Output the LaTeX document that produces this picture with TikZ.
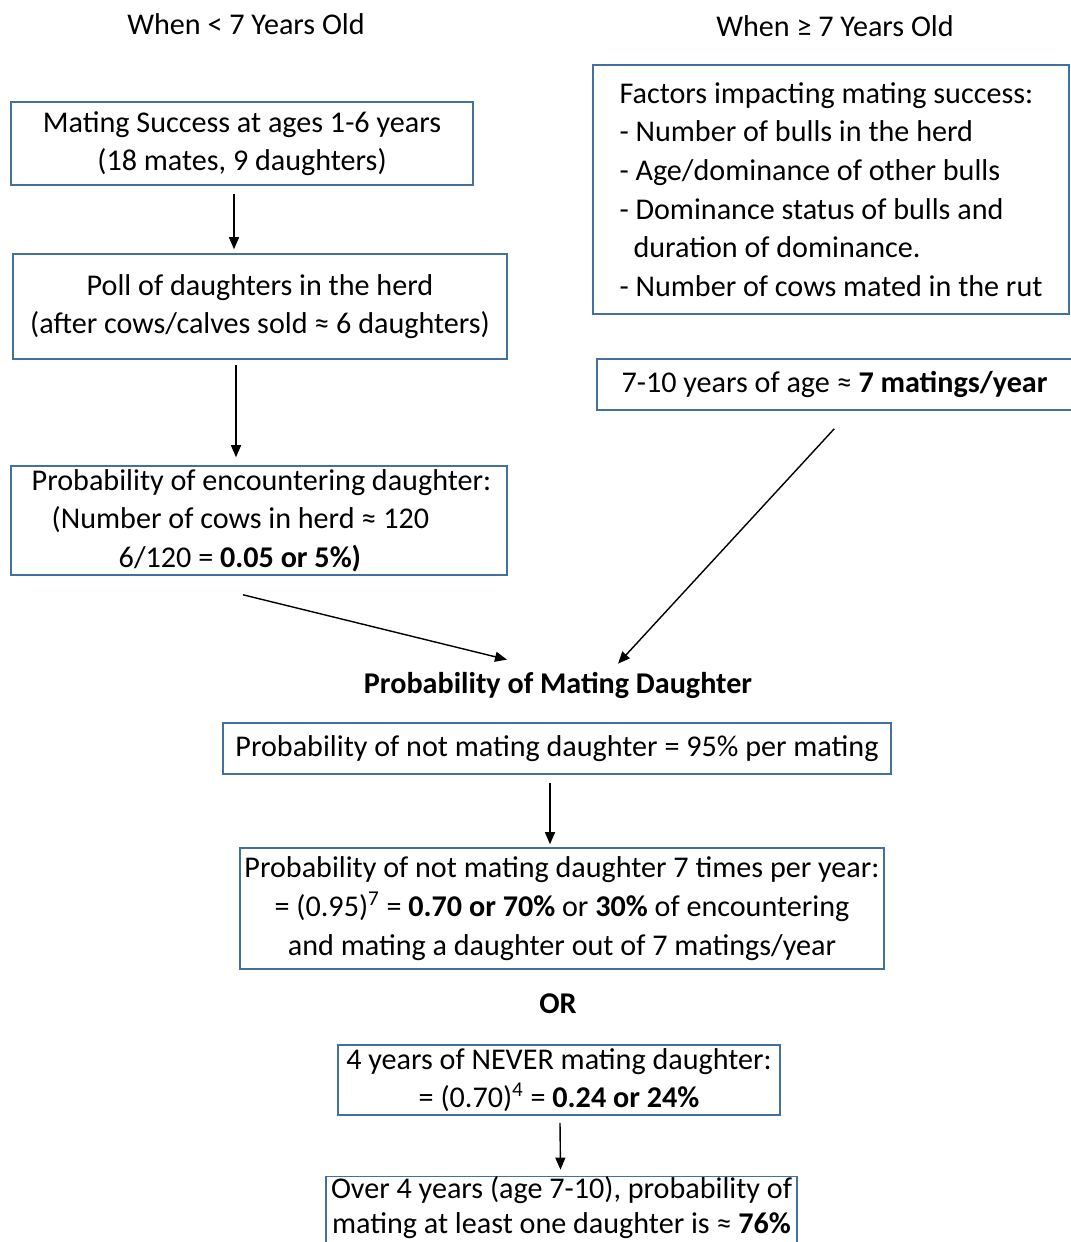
\documentclass[tikz,border=0pt]{standalone}
\usepackage{fontspec}
\setmainfont{Carlito}
\usetikzlibrary{arrows.meta}
\usetikzlibrary{calc}
\definecolor{boxblue}{RGB}{65,113,156}
\newcommand{\bodyfont}{\fontsize{17.15pt}{22pt}\selectfont}
\tikzset{
  box/.style={draw=boxblue,line width=0.9pt,inner sep=0pt,align=center,font=\bodyfont},
  arr/.style={-{Triangle[length=0.24cm,width=0.2cm]},line width=0.8pt},
}

\begin{document}
\begin{tikzpicture}[x=0.02cm,y=-0.02cm]
\useasboundingbox (0,0) rectangle (1071,1242);
\clip (0,0) rectangle (1071,1242);
% headings
\node[font=\bodyfont] (young) at (246,24) {When < 7 Years Old};
\node[font=\bodyfont] (old) at (835,26) {When ≥ 7 Years Old};

% left column
\node[box,minimum width=9.24cm,minimum height=1.66cm] (mate) at (242,143.5)
  {Mating Success at ages 1-6 years\\(18 mates, 9 daughters)};
\node[box,minimum width=9.88cm,minimum height=2.1cm] (poll) at (260,306.5)
  {Poll of daughters in the herd\\(after cows/calves sold ≈ 6 daughters)};
\node[box,align=left,minimum width=9.92cm,minimum height=2.18cm] (enc) at (259,520.5)
  {\hspace*{0.1cm}Probability of encountering daughter:\\
   \hspace*{0.5cm}(Number of cows in herd ≈ 120\\
   \hspace*{1.84cm}6/120 = \textbf{0.05 or 5\%)}};

% right column
\node[box,align=left,minimum width=9.52cm,minimum height=4.98cm] (factors) at (831,189.5)
  {Factors impacting mating success:\\
   - Number of bulls in the herd\\
   - Age/dominance of other bulls\\
   - Dominance status of bulls and\\
   \hspace*{0.28cm}duration of dominance.\\
   - Number of cows mated in the rut};
\node[box,minimum width=9.9cm,minimum height=1.02cm] (rate) at (844.5,384.5)
  {7-10 years of age ≈ \textbf{7 matings/year}\hspace*{0.4cm}};

% lower part
\node[font=\bodyfont\bfseries] (title) at (558,685) {Probability of Mating Daughter};
\node[box,minimum width=13.36cm,minimum height=1.02cm] (notm) at (557,748.5)
  {Probability of not mating daughter = 95\% per mating};
\node[box,minimum width=12.88cm,minimum height=2.42cm] (seven) at (562,908.5)
  {Probability of not mating daughter 7 times per year:\\
   = (0.95)\textsuperscript{7} = \textbf{0.70 or 70\%} or \textbf{30\%} of encountering\\
   and mating a daughter out of 7 matings/year};
\node[font=\bodyfont\bfseries] (or) at (558,1004) {OR};
\node[box,minimum width=8.84cm,minimum height=1.4cm] (never) at (559,1080)
  {4 years of NEVER mating daughter:\\
   = (0.70)\textsuperscript{4} = \textbf{0.24 or 24\%}};
\node[box,font=\fontsize{17.15pt}{20pt}\selectfont,text depth=0.32cm,minimum width=9.42cm,minimum height=1.4cm] (over) at (561.5,1213)
  {Over 4 years (age 7-10), probability of\\
   mating at least one daughter is ≈ \textbf{76\%}};

% arrows
\draw[arr] ($(mate.south)+(-8,8)$) -- ($(poll.north)+(-26,-4)$);
\draw[arr] ($(poll.south)+(-24,5)$) -- ($(enc.north)+(-23,-8)$);
\draw[arr] ($(enc.south)+(-16,19)$) -- ($(title.north)+(-51,-6)$);
\draw[arr] ($(rate.south west)+(238,18)$) -- ($(title.north)+(60,-2)$);
\draw[arr] ($(notm.south)+(-7,8)$) -- ($(seven.north)+(-12,-3)$);
\draw[arr] ($(never.south)+(1,7)$) -- ($(over.north)+(-1,-6)$);
\end{tikzpicture}
\end{document}
